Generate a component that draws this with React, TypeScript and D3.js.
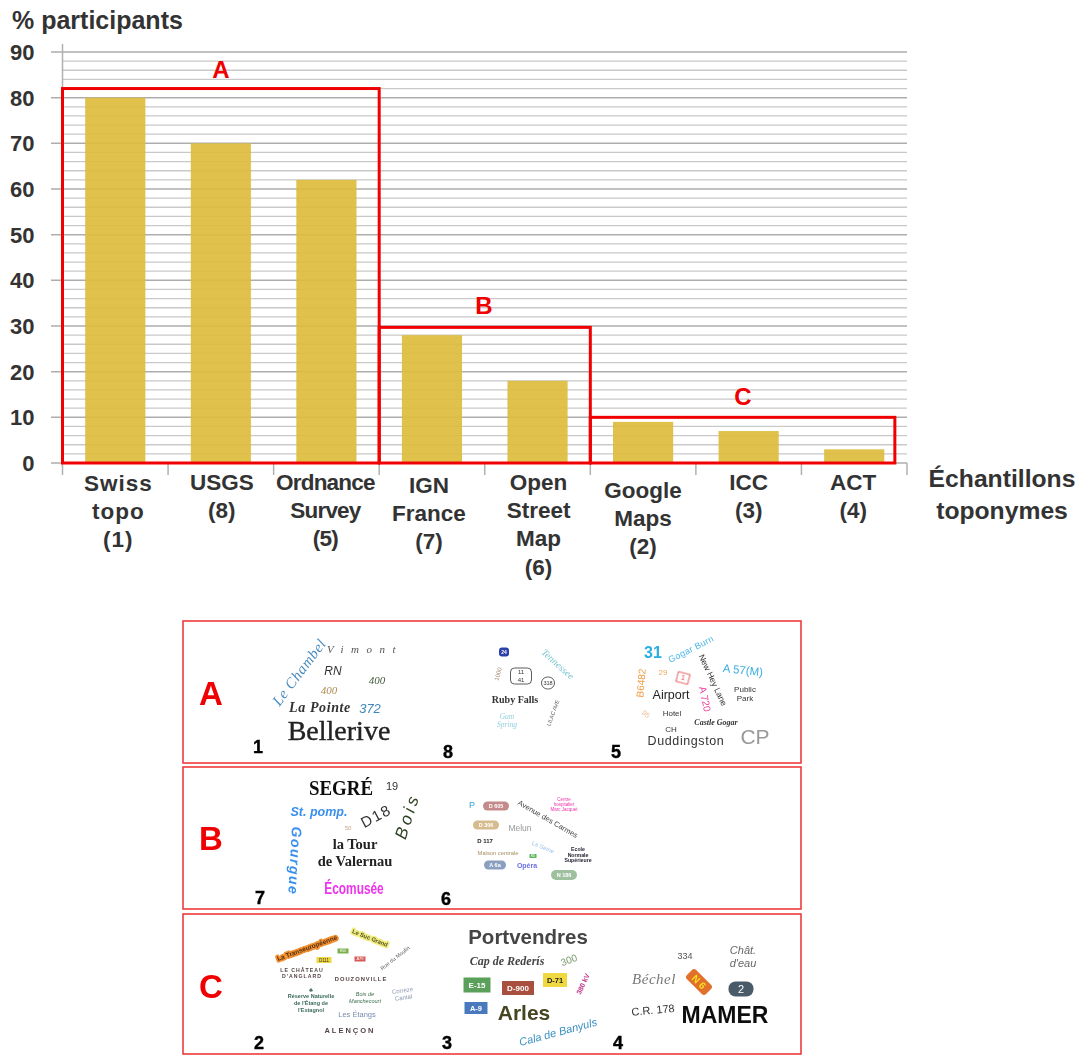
import React from "react";
import * as d3 from "d3";

const W = 1083, H = 1055;
const categories = ["Swiss topo", "USGS", "Ordnance Survey", "IGN France", "Open Street Map", "Google Maps", "ICC", "ACT"];
const percents = [80, 70, 62, 28, 18, 9, 7, 3];
const majorTicks = [0, 10, 20, 30, 40, 50, 60, 70, 80, 90];
const minorTicks = d3.range(0, 90, 2).filter(v => v % 10 !== 0);
const categoryLabels = [
  { lines: ["Swiss", "topo", "(1)"], dy: 0, ls: 1, off: 3 },
  { lines: ["USGS", "(8)"], dy: -1, ls: 0, off: 1 },
  { lines: ["Ordnance", "Survey", "(5)"], dy: -1, ls: -0.8, off: -1 },
  { lines: ["IGN", "France", "(7)"], dy: 2, ls: 0, off: -3 },
  { lines: ["Open", "Street", "Map", "(6)"], dy: -1, ls: 0, off: 1 },
  { lines: ["Google", "Maps", "(2)"], dy: 7, ls: 0, off: 0 },
  { lines: ["ICC", "(3)"], dy: -1, ls: 0, off: 0 },
  { lines: ["ACT", "(4)"], dy: -1, ls: 0, off: -1 },
];
const groupBoxes = [
  { name: "A", from: 0, to: 3, top: 82, lx: 221, ly: 70 },
  { name: "B", from: 3, to: 5, top: 29.7, lx: 484, ly: 306 },
  { name: "C", from: 5, to: 7.885, top: 10, lx: 743, ly: 397 },
];

const SANS = "'Liberation Sans', Arial, sans-serif";
const SERIF = "'Liberation Serif', 'DejaVu Serif', serif";
const panels = [
  { y: 621, h: 142 },
  { y: 767, h: 142 },
  { y: 914, h: 140 },
];
const panelLetters = [["A", 211, 693], ["B", 211, 838], ["C", 211, 986]] as const;
const sampleNumbers = [
  ["1", 258, 747], ["8", 448, 752], ["5", 616, 752],
  ["7", 260, 898], ["6", 446, 899],
  ["2", 259, 1043], ["3", 447, 1043], ["4", 618, 1043],
] as const;

type S = { t: string; x: number; y: number; s: number; c: string; r?: number; k?: number; b?: boolean; i?: boolean; f?: string; ls?: number; bg?: string; w?: number; h?: number; rx?: number; halo?: string; lh?: number; edge?: number };
const specimens: S[] = [
  // 1
  { t: "Le Chambel", x: 299, y: 672, s: 15, c: "#4a8bbd", r: -53, i: true, f: SERIF, ls: 0.6 },
  { t: "Vimont", x: 365, y: 649, s: 11, c: "#555", i: true, f: SERIF, ls: 7.5 },
  { t: "RN", x: 333, y: 671, s: 12, c: "#333", i: true },
  { t: "400", x: 377, y: 680, s: 11, c: "#3f5a35", i: true, f: SERIF },
  { t: "400", x: 329, y: 690, s: 11, c: "#b08a50", i: true, f: SERIF },
  { t: "La Pointe", x: 320, y: 707, s: 14, c: "#333", i: true, b: true, f: SERIF, ls: 0.6 },
  { t: "372", x: 370, y: 708, s: 13, c: "#3f86bd", i: true },
  { t: "Bellerive", x: 339, y: 730, s: 28, c: "#222", f: SERIF, edge: 0.4 },
  // 8
  { t: "24", x: 504, y: 652, s: 5, c: "#fff", bg: "#2b3fa8", w: 10, h: 9, rx: 3, b: true },
  { t: "1000", x: 498, y: 674, s: 6, c: "#a08070", r: -75 },
  { t: "11\n41", x: 521, y: 676, s: 6, c: "#333", bg: "#fff", w: 21, h: 16, rx: 4, lh: 8 },
  { t: "318", x: 548, y: 683, s: 5.5, c: "#333", bg: "#fff", w: 13, h: 12, rx: 6 },
  { t: "Tennessee", x: 558, y: 664, s: 10, c: "#7fc4cf", r: 42, i: true, f: SERIF },
  { t: "Ruby Falls", x: 515, y: 699, s: 10, c: "#333", b: true, f: SERIF },
  { t: "Gum\nSpring", x: 507, y: 720, s: 7.5, c: "#8fd0dc", i: true, f: SERIF, lh: 8 },
  { t: "LILAC AVE", x: 553, y: 713, s: 5.5, c: "#555", r: -70 },
  // 5
  { t: "31", x: 653, y: 652, s: 16, c: "#29aee0", b: true },
  { t: "Gogar Burn", x: 691, y: 649, s: 9, c: "#4ab5e8", r: -27, ls: 0.3 },
  { t: "A 57(M)", x: 743, y: 670, s: 11.5, c: "#3aaee0", r: 6 },
  { t: "New Hey Lane", x: 713, y: 680, s: 8.5, c: "#333", r: 65 },
  { t: "B6482", x: 641, y: 683, s: 10, c: "#ef9a40", r: -85 },
  { t: "29", x: 663, y: 672, s: 8, c: "#efa860" },
  { t: "1", x: 683, y: 678, s: 7, c: "#e03a3a", bg: "#fff", w: 12, h: 10, rx: 0, r: 15 },
  { t: "Airport", x: 671, y: 695, s: 12.5, c: "#222" },
  { t: "A 720", x: 705, y: 699, s: 10, c: "#ee3a98", r: 78 },
  { t: "Public\nPark", x: 745, y: 694, s: 8, c: "#333", lh: 9 },
  { t: "Hotel", x: 672, y: 713, s: 8, c: "#333" },
  { t: "95", x: 646, y: 714, s: 7, c: "#efb88a", r: 40 },
  { t: "Castle Gogar", x: 716, y: 722, s: 8, c: "#333", b: true, f: SERIF, i: true },
  { t: "CH", x: 671, y: 729, s: 8, c: "#333" },
  { t: "Duddingston", x: 686, y: 741, s: 12.5, c: "#333", ls: 0.6 },
  { t: "CP", x: 755, y: 737, s: 21, c: "#999" },
  // 7
  { t: "SEGRÉ", x: 341, y: 787, s: 22, c: "#111", b: true, f: SERIF, k: 0.86 },
  { t: "19", x: 392, y: 786, s: 11, c: "#333" },
  { t: "Bois", x: 407, y: 816, s: 17, c: "#2c4020", r: -72, i: true, ls: 3.5 },
  { t: "St. pomp.", x: 319, y: 812, s: 12.5, c: "#3a90ee", b: true, i: true },
  { t: "D18", x: 376, y: 816, s: 15, c: "#333", r: -28, ls: 1.5 },
  { t: "50", x: 348, y: 828, s: 6, c: "#c9a88a" },
  { t: "Gourgue", x: 295, y: 861, s: 14, c: "#3a90ee", r: 93, ls: 1.5, b: true, i: true },
  { t: "la Tour\nde Valernau", x: 355, y: 852, s: 14.5, c: "#222", b: true, f: SERIF, lh: 17 },
  { t: "Écomusée", x: 354, y: 888, s: 17, c: "#ee33ee", b: true, k: 0.7 },
  // 6
  { t: "P", x: 472, y: 805, s: 9, c: "#33a0e0" },
  { t: "D 605", x: 496, y: 806, s: 5.5, c: "#fff", bg: "#c48a8a", w: 26, h: 9, rx: 4.5, b: true },
  { t: "Avenue des Carmes", x: 548, y: 819, s: 7.5, c: "#444", r: 30 },
  { t: "Centre\nhospitalier\nMarc Jacquet", x: 564, y: 804, s: 4.5, c: "#ee33aa", lh: 5 },
  { t: "D 306", x: 486, y: 825, s: 5.5, c: "#fff", bg: "#d6bb8f", w: 26, h: 9, rx: 4.5, b: true },
  { t: "Melun", x: 520, y: 828, s: 8.5, c: "#999" },
  { t: "D 117", x: 485, y: 841, s: 6, c: "#222", b: true },
  { t: "La Seine", x: 543, y: 847, s: 6, c: "#9cc3e6", r: 22 },
  { t: "Maison centrale", x: 498, y: 853, s: 5.8, c: "#a89060" },
  { t: "RD", x: 533, y: 856, s: 3, c: "#fff", bg: "#5cb85c", w: 7, h: 4, rx: 0 },
  { t: "Ecole\nNormale\nSupérieure", x: 578, y: 855, s: 5.2, c: "#223", b: true, lh: 5.5 },
  { t: "A 6a", x: 495, y: 865, s: 5.5, c: "#fff", bg: "#8b9fc0", w: 22, h: 9, rx: 4.5, b: true },
  { t: "Opéra", x: 527, y: 866, s: 7, c: "#6a6ee8", b: true },
  { t: "N 186", x: 564, y: 875, s: 5.5, c: "#fff", bg: "#9fc09f", w: 26, h: 10, rx: 5, b: true },
  // 2
  { t: "La Transeuropéenne", x: 307, y: 948, s: 6.5, c: "#553010", r: -20, b: true, halo: "#f09030" },
  { t: "Le Suc Grand", x: 370, y: 938, s: 5.8, c: "#555520", r: 22, b: true, halo: "#f0ec80" },
  { t: "E50", x: 343, y: 951, s: 3.5, c: "#fff", bg: "#7cb050", w: 11, h: 5, rx: 0 },
  { t: "D111", x: 324, y: 960, s: 4.5, c: "#333", bg: "#f0d840", w: 15, h: 6, rx: 0 },
  { t: "A79", x: 360, y: 959, s: 4, c: "#fff", bg: "#d85a5a", w: 11, h: 5, rx: 0 },
  { t: "Rue du Moulin", x: 395, y: 958, s: 5.5, c: "#666", r: -38 },
  { t: "LE CHÂTEAU\nD'ANGLARD", x: 302, y: 973, s: 5.2, c: "#544", b: true, ls: 1, lh: 6 },
  { t: "DOUZONVILLE", x: 361, y: 979, s: 5.8, c: "#544", b: true, ls: 1 },
  { t: "♣", x: 311, y: 990, s: 6, c: "#3a6b5a" },
  { t: "Réserve Naturelle\nde l'Étang de\nl'Estagnol", x: 311, y: 1003, s: 5.5, c: "#3a6b5a", b: true, lh: 7 },
  { t: "Bois de\nManchecourt", x: 365, y: 998, s: 5.5, c: "#3a6b4a", i: true, lh: 7 },
  { t: "Corrèze\nCantal", x: 403, y: 994, s: 6, c: "#8a9ab0", r: -8, lh: 7 },
  { t: "Les Étangs", x: 357, y: 1014, s: 7.5, c: "#7a8ab0" },
  { t: "ALENÇON", x: 350, y: 1030, s: 7.5, c: "#544", b: true, ls: 2 },
  // 3
  { t: "Portvendres", x: 528, y: 937, s: 20.5, c: "#444", b: true },
  { t: "Cap de Rederís", x: 507, y: 961, s: 12, c: "#444", i: true, b: true, f: SERIF },
  { t: "300", x: 569, y: 960, s: 10, c: "#7a9a6a", r: -20 },
  { t: "E-15", x: 477, y: 985, s: 8, c: "#fff", bg: "#5aa05a", w: 27, h: 15, rx: 0, b: true },
  { t: "D-900", x: 518, y: 988, s: 8, c: "#fff", bg: "#a85040", w: 32, h: 14, rx: 0, b: true },
  { t: "D-71", x: 555, y: 980, s: 7.5, c: "#222", bg: "#f0d840", w: 24, h: 14, rx: 0, b: true },
  { t: "380 kV", x: 583, y: 984, s: 7, c: "#c0308a", r: -65, b: true },
  { t: "A-9", x: 476, y: 1008, s: 7.5, c: "#fff", bg: "#4a7ac0", w: 23, h: 12, rx: 0, b: true },
  { t: "Arles", x: 524, y: 1013, s: 21, c: "#444520", b: true },
  { t: "Cala de Banyuls", x: 558, y: 1032, s: 11, c: "#3a90c0", r: -15, i: true },
  // 4
  { t: "334", x: 685, y: 956, s: 9, c: "#555" },
  { t: "Chât.\nd'eau", x: 743, y: 957, s: 11, c: "#666", i: true, lh: 13 },
  { t: "Béchel", x: 654, y: 979, s: 15, c: "#777", i: true, f: SERIF, ls: 0.5 },
  { t: "N 6", x: 699, y: 982, s: 10, c: "#f8e020", bg: "#e0702a", w: 27, h: 13, rx: 3, r: 45, b: true },
  { t: "2", x: 741, y: 989, s: 11, c: "#fff", bg: "#4a5a68", w: 25, h: 15, rx: 7 },
  { t: "C.R. 178", x: 653, y: 1010, s: 11, c: "#333", r: -5 },
  { t: "MAMER", x: 725, y: 1015, s: 23, c: "#111", b: true },
];

function Specimen({ d }: { d: S }) {
  const lines = d.t.split("\n");
  const lh = d.lh ?? d.s * 1.1;
  const y0 = -((lines.length - 1) * lh) / 2;
  const strokeColor = d.halo ?? (d.edge ? d.c : "none");
  const strokeW = d.halo ? 3.5 : d.edge ?? 0;
  return (
    <g transform={`translate(${d.x},${d.y}) rotate(${d.r ?? 0}) scale(${d.k ?? 1},1)`}>
      {d.bg && (
        <rect x={-(d.w ?? 0) / 2} y={-(d.h ?? 0) / 2} width={d.w} height={d.h} rx={d.rx ?? 0} fill={d.bg}
          stroke={d.bg === "#fff" ? d.c : "none"} strokeWidth={0.8} />
      )}
      <text textAnchor="middle" fontFamily={d.f ?? SANS} fontSize={d.s} fill={d.c}
        fontWeight={d.b ? 700 : 400} fontStyle={d.i ? "italic" : "normal"} letterSpacing={d.ls ?? 0}
        stroke={strokeColor} strokeWidth={strokeW} paintOrder="stroke" strokeLinejoin="round">
        {lines.map((l, i) => (
          <tspan key={i} x={0} y={y0 + i * lh} dy="0.35em">{l}</tspan>
        ))}
      </text>
    </g>
  );
}

export default function App() {
  const y = d3.scaleLinear().domain([0, 90]).range([463, 52]);
  const x = d3.scaleBand<string>().domain(categories).range([62.5, 907]).paddingInner(0.43).paddingOuter(0.215);
  const step = x.step();
  const x0 = 62.5;
  const ink = "#333";
  return (
    <svg width={W} height={H} viewBox={`0 0 ${W} ${H}`} style={{ position: "absolute", left: 0, top: 0, background: "#fff" }}>
      <defs>
        <filter id="soft" x="-2%" y="-2%" width="104%" height="104%"><feGaussianBlur stdDeviation="0.35" /></filter>
      </defs>
      <g>
        {minorTicks.map(v => (
          <line key={v} x1={x0} x2={907} y1={y(v)} y2={y(v)} stroke="#c9c9c9" strokeWidth={1.3} />
        ))}
        {majorTicks.map(v => (
          <line key={v} x1={51} x2={907} y1={y(v)} y2={y(v)} stroke="#adadad" strokeWidth={1.5} />
        ))}
        <line x1={x0} x2={x0} y1={44} y2={475} stroke="#b0b0b0" strokeWidth={1.5} />
        {d3.range(1, 9).map(i => (
          <line key={i} x1={x0 + i * step} x2={x0 + i * step} y1={463} y2={475} stroke="#b0b0b0" strokeWidth={1.5} />
        ))}
        {categories.map((c, i) => (
          <rect key={c} x={x(c)} y={y(percents[i])} width={x.bandwidth()} height={y(0) - y(percents[i])} fill="#dcbc3c" fillOpacity={0.92} />
        ))}
        {groupBoxes.map(b => (
          <g key={b.name}>
            <rect x={x0 + b.from * step} y={y(b.top)} width={(b.to - b.from) * step} height={y(0) - y(b.top)} fill="none" stroke="#f00000" strokeWidth={3} />
            <text x={b.lx} y={b.ly} dy="0.35em" textAnchor="middle" fontFamily={SANS} fontWeight={700} fontSize={24} fill="#f00000">{b.name}</text>
          </g>
        ))}
        {majorTicks.map(v => (
          <text key={v} x={34.5} y={y(v)} dy="0.36em" textAnchor="end" fontFamily={SANS} fontWeight={700} fontSize={22} fill={ink}>{v}</text>
        ))}
        <text x={12} y={29} fontFamily={SANS} fontWeight={700} fontSize={25} fill={ink}>% participants</text>
        {categories.map((c, i) => (
          <text key={c} textAnchor="middle" fontFamily={SANS} fontWeight={700} fontSize={22.5} fill={ink} letterSpacing={categoryLabels[i].ls}>
            {categoryLabels[i].lines.map((l, j) => (
              <tspan key={j} x={x(c)! + x.bandwidth() / 2 + categoryLabels[i].off} y={491 + categoryLabels[i].dy + j * 28.2}>{l}</tspan>
            ))}
          </text>
        ))}
        <text textAnchor="middle" fontFamily={SANS} fontWeight={700} fontSize={24.7} fill={ink}>
          <tspan x={1002} y={487}>Échantillons</tspan>
          <tspan x={1002} y={519}>toponymes</tspan>
        </text>
      </g>
      <g>
        {panels.map((p, i) => (
          <rect key={i} x={183} y={p.y} width={618} height={p.h} fill="#fff" stroke="#ef3b3b" strokeWidth={1.6} />
        ))}
        <g filter="url(#soft)">
          {specimens.map((d, i) => <Specimen key={i} d={d} />)}
        </g>
        {panelLetters.map(([t, px, py]) => (
          <text key={t} x={px} y={py} dy="0.35em" textAnchor="middle" fontFamily={SANS} fontWeight={700} fontSize={33} fill="#f00000">{t}</text>
        ))}
        {sampleNumbers.map(([t, px, py]) => (
          <text key={t} x={px} y={py} dy="0.35em" textAnchor="middle" fontFamily={SANS} fontWeight={700} fontSize={18} fill="#000" stroke="#000" strokeWidth={0.4}>{t}</text>
        ))}
      </g>
    </svg>
  );
}
